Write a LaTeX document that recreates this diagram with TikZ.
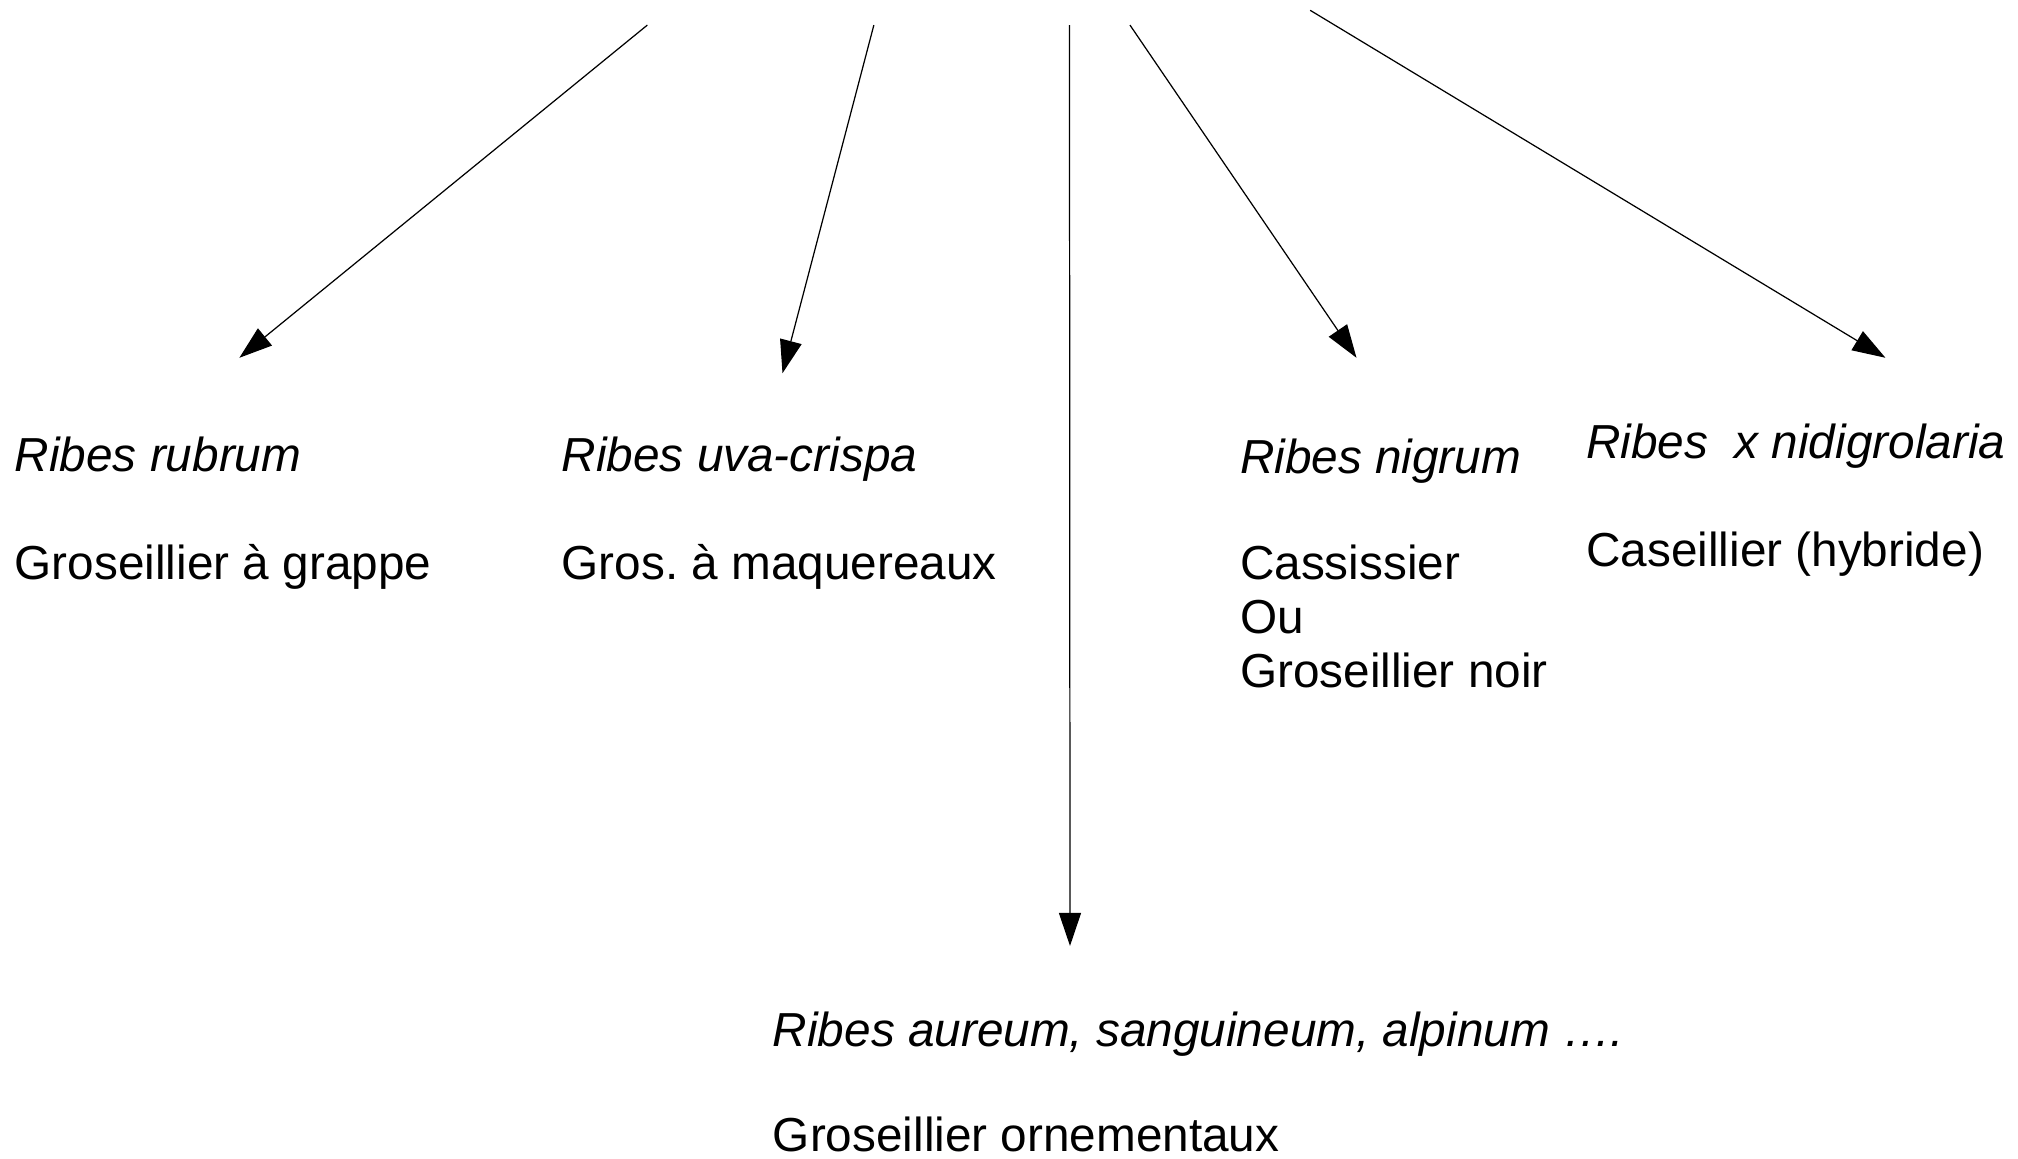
\documentclass[tikz,border=0pt]{standalone}
\usepackage{fontspec}
\setmainfont{Liberation Sans}
\usetikzlibrary{arrows.meta}
\frenchspacing
\begin{document}
\begin{tikzpicture}[x=0.01287cm,y=-0.01287cm,
  lbl/.style={inner sep=0pt,anchor=base west,align=left,font=\fontsize{13.57}{15.4}\selectfont},
  ital/.style={lbl,font=\fontsize{13.57}{15.4}\selectfont\itshape},
  conn/.style={line width=0.35pt,-{Triangle[length=0.33cm,width=0.22cm]}}]
\useasboundingbox (0,0) rectangle (1568,900);
% free ends of the connectors
\coordinate (s1) at (503,19.5);
\coordinate (s2) at (679,19.5);
\coordinate (s3) at (831,19.5);
\coordinate (s4) at (878,19.5);
\coordinate (s5) at (1018,8);
\coordinate (t1) at (186,278);
\coordinate (t2) at (608,290);
\coordinate (t3) at (831.4,735);
\coordinate (t4) at (1054,278);
\coordinate (t5) at (1465,278);
% texts
\node[ital] (r1) at (11,366) {Ribes rubrum};
\node[lbl] (c1) at (11,450) {Groseillier à grappe};
\node[ital] (r2) at (436,366) {Ribes uva-crispa};
\node[lbl] (c2) at (436,450) {Gros. à maquereaux};
\node[ital] (r4) at (963,368) {Ribes nigrum};
\node[lbl] (c4a) at (963,450) {Cassissier};
\node[lbl] (c4b) at (963,492) {Ou};
\node[lbl] (c4c) at (963,534) {Groseillier noir};
\node[ital] (r5) at (1232,356) {Ribes\ \ x nidigrolaria};
\node[lbl] (c5) at (1232,440) {Caseillier (hybride)};
\node[ital] (r3) at (600,813) {Ribes aureum, sanguineum, alpinum ….};
\node[lbl] (c3) at (600,895) {Groseillier ornementaux};
% connectors
\draw[conn] (s1) -- (t1);
\draw[conn] (s2) -- (t2);
\draw[conn] (s3) -- (t3);
\draw[conn] (s4) -- (t4);
\draw[conn] (s5) -- (t5);
\end{tikzpicture}
\end{document}
